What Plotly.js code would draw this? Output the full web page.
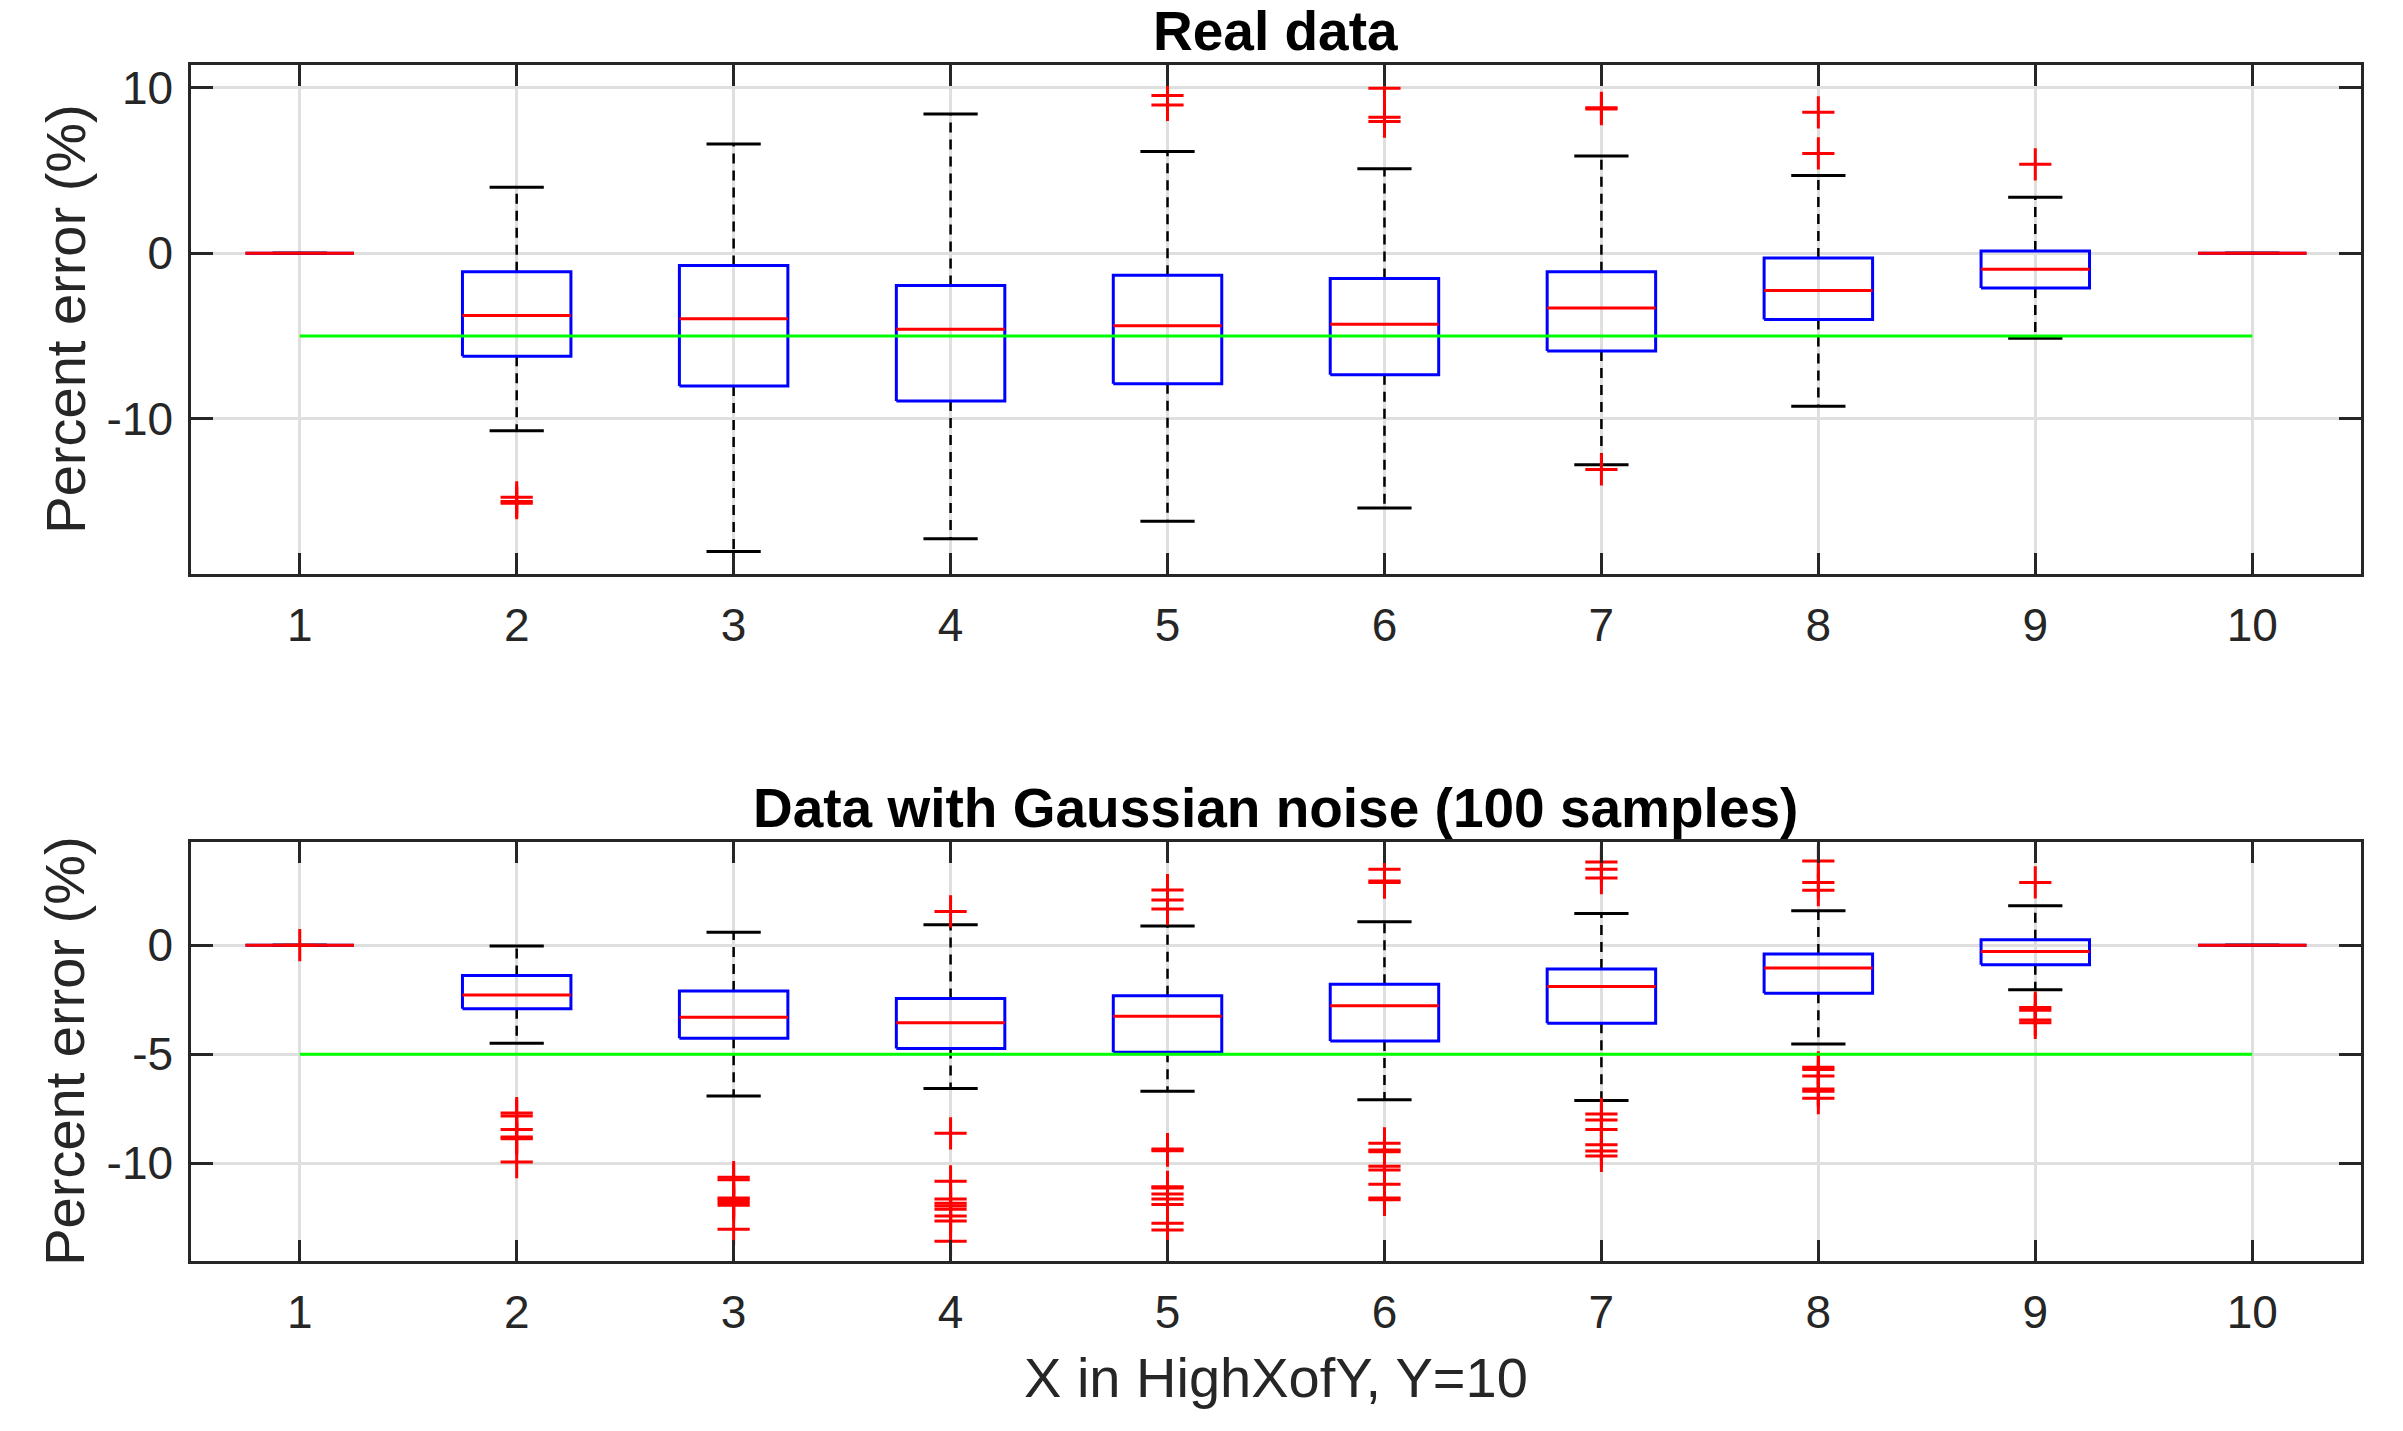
<!DOCTYPE html>
<html>
<head>
<meta charset="utf-8">
<script src="https://cdn.plot.ly/plotly-3.0.1.min.js"></script>
<style>
  html, body { margin: 0; padding: 0; background: #ffffff; }
  #chart { width: 2403px; height: 1431px; }
</style>
</head>
<body>
<div id="chart"></div>
<script>
// Box plots of percent error vs X in HighXofY (Y=10)

const positions = [1, 2, 3, 4, 5, 6, 7, 8, 9, 10];
const xTickText = ['1', '2', '3', '4', '5', '6', '7', '8', '9', '10'];
const targetError = -5;

// Real data
const realMedian = [0, -3.76, -3.96, -4.59, -4.39, -4.29, -3.31, -2.26, -0.98, 0];
const realQ1 = [0, -6.22, -8.02, -8.92, -7.89, -7.34, -5.91, -4.01, -2.11, 0];
const realQ3 = [0, -1.13, -0.75, -1.95, -1.33, -1.53, -1.13, -0.30, 0.13, 0];
const realLower = [0, -10.73, -18.02, -17.24, -16.19, -15.39, -12.78, -9.25, -5.14, 0];
const realUpper = [0, 3.98, 6.59, 8.40, 6.14, 5.09, 5.86, 4.69, 3.38, 0];
const realOutliers = [
    [],
    [-14.74, -15.0, -15.1],
    [],
    [],
    [9.52, 8.95],
    [9.95, 8.20, 7.94],
    [8.77, 8.70, -13.06],
    [8.50, 6.02],
    [5.36],
    []
];
const realYTicks = [-10, 0, 10];
const realYTickText = ['-10', '0', '10'];

// Data with Gaussian noise (100 samples)
const noiseMedian = [0, -2.29, -3.30, -3.56, -3.26, -2.78, -1.90, -1.05, -0.29, 0];
const noiseQ1 = [0, -2.91, -4.27, -4.74, -4.91, -4.40, -3.58, -2.21, -0.90, 0];
const noiseQ3 = [0, -1.39, -2.10, -2.44, -2.32, -1.79, -1.09, -0.40, 0.25, 0];
const noiseLower = [0, -4.50, -6.92, -6.57, -6.70, -7.09, -7.12, -4.53, -2.04, 0];
const noiseUpper = [0, -0.04, 0.59, 0.94, 0.88, 1.08, 1.45, 1.58, 1.81, 0];
const noiseOutliers = [
    [0],
    [-7.70, -7.83, -8.45, -8.80, -8.88, -9.95],
    [-10.64, -10.76, -11.60, -11.68, -11.80, -11.93, -13.03],
    [1.55, -8.63, -10.83, -11.64, -11.84, -11.96, -12.11, -12.42, -12.65, -13.58],
    [2.53, 2.07, 1.66, -9.35, -9.43, -11.08, -11.14, -11.41, -11.64, -11.90, -12.76, -13.06],
    [3.48, 2.95, 2.87, -9.09, -9.40, -9.48, -10.14, -10.31, -10.97, -11.60, -11.68],
    [3.82, 3.48, 3.08, -7.74, -8.02, -8.45, -9.15, -9.44, -9.67],
    [3.86, 2.88, 2.52, -5.60, -5.70, -6.00, -6.60, -6.70, -7.02],
    [2.88, -2.86, -2.99, -3.43, -3.56],
    []
];
const noiseYTicks = [-10, -5, 0];
const noiseYTickText = ['-10', '-5', '0'];

const FONT = 'Liberation Sans, Arial, Helvetica, sans-serif';
const BOX_HALF = 0.25;
const CAP_HALF = 0.125;
const LW = 3;

// Build MATLAB-style boxplot traces from the summary arrays
function boxTraces(med, q1, q3, lo, hi, outliers, xa, ya) {
    const wx = [], wy = [], cx = [], cy = [], bx = [], by = [], mx = [], my = [], ox = [], oy = [];
    positions.forEach((p, i) => {
        wx.push(p, p, null, p, p, null);
        wy.push(q3[i], hi[i], null, q1[i], lo[i], null);
        cx.push(p - CAP_HALF, p + CAP_HALF, null, p - CAP_HALF, p + CAP_HALF, null);
        cy.push(hi[i], hi[i], null, lo[i], lo[i], null);
        bx.push(p - BOX_HALF, p + BOX_HALF, p + BOX_HALF, p - BOX_HALF, p - BOX_HALF, null);
        by.push(q1[i], q1[i], q3[i], q3[i], q1[i], null);
        mx.push(p - BOX_HALF, p + BOX_HALF, null);
        my.push(med[i], med[i], null);
        outliers[i].forEach(v => { ox.push(p); oy.push(v); });
    });
    const base = { type: 'scatter', xaxis: xa, yaxis: ya, showlegend: false, hoverinfo: 'skip' };
    return [
        Object.assign({}, base, { x: wx, y: wy, mode: 'lines', line: { color: '#000000', width: 2.5, dash: '10px,7px' } }),
        Object.assign({}, base, { x: cx, y: cy, mode: 'lines', line: { color: '#000000', width: LW } }),
        Object.assign({}, base, { x: bx, y: by, mode: 'lines', line: { color: '#0000ff', width: LW } }),
        Object.assign({}, base, { x: mx, y: my, mode: 'lines', line: { color: '#ff0000', width: LW } }),
        Object.assign({}, base, {
            x: ox, y: oy, mode: 'markers',
            marker: { symbol: 'cross-thin-open', size: 23, color: '#ff0000', line: { color: '#ff0000', width: LW } }
        }),
        Object.assign({}, base, {
            x: [positions[0], positions[positions.length - 1]], y: [targetError, targetError],
            mode: 'lines', line: { color: '#00ff00', width: LW }
        })
    ];
}

const traces = [].concat(
    boxTraces(realMedian, realQ1, realQ3, realLower, realUpper, realOutliers, 'x', 'y'),
    boxTraces(noiseMedian, noiseQ1, noiseQ3, noiseLower, noiseUpper, noiseOutliers, 'x2', 'y2')
);

const tickFont = { family: FONT, size: 46, color: '#262626' };

function xAxis(anchor) {
    return {
        anchor: anchor,
        domain: [0.0796, 0.9824],
        range: [0.5, 10.5],
        tickmode: 'array',
        tickvals: positions,
        ticktext: xTickText,
        ticks: 'inside',
        ticklen: 21,
        tickwidth: 3,
        tickcolor: '#262626',
        tickfont: tickFont,
        ticklabelstandoff: 9,
        showline: true,
        linecolor: '#262626',
        linewidth: 3,
        mirror: 'ticks',
        showgrid: true,
        gridcolor: '#dfdfdf',
        gridwidth: 3,
        zeroline: false,
        fixedrange: true
    };
}

function yAxis(anchor, domain, range, tickvals, ticktext) {
    return {
        anchor: anchor,
        domain: domain,
        range: range,
        tickmode: 'array',
        tickvals: tickvals,
        ticktext: ticktext,
        ticks: 'inside',
        ticklen: 22,
        tickwidth: 3,
        tickcolor: '#262626',
        tickfont: tickFont,
        ticklabelstandoff: 6,
        showline: true,
        linecolor: '#262626',
        linewidth: 3,
        mirror: 'ticks',
        showgrid: true,
        gridcolor: '#dfdfdf',
        gridwidth: 3,
        zeroline: false,
        fixedrange: true
    };
}

const titleFont = { family: FONT, size: 55, color: '#000000', weight: 'bold' };
const labelFont = { family: FONT, size: 56, color: '#262626' };

const layout = {
    width: 2403,
    height: 1431,
    margin: { l: 0, r: 0, t: 0, b: 0 },
    paper_bgcolor: '#ffffff',
    plot_bgcolor: '#ffffff',
    showlegend: false,
    xaxis: xAxis('y'),
    yaxis: yAxis('x', [0.5989, 0.9546], [-19.37, 11.36], realYTicks, realYTickText),
    xaxis2: xAxis('y2'),
    yaxis2: yAxis('x2', [0.1189, 0.4114], [-14.48, 4.72], noiseYTicks, noiseYTickText),
    annotations: [
        { text: 'Real data', font: titleFont, xref: 'paper', yref: 'paper', x: 0.531, y: 0.9783, xanchor: 'center', yanchor: 'middle', showarrow: false },
        { text: 'Data with Gaussian noise (100 samples)', font: titleFont, xref: 'paper', yref: 'paper', x: 0.531, y: 0.4354, xanchor: 'center', yanchor: 'middle', showarrow: false },
        { text: 'Percent error (%)', font: labelFont, textangle: -90, xref: 'paper', yref: 'paper', x: 0.0271, y: 0.7767, xanchor: 'center', yanchor: 'middle', showarrow: false },
        { text: 'Percent error (%)', font: labelFont, textangle: -90, xref: 'paper', yref: 'paper', x: 0.0271, y: 0.2651, xanchor: 'center', yanchor: 'middle', showarrow: false },
        { text: 'X in HighXofY, Y=10', font: labelFont, xref: 'paper', yref: 'paper', x: 0.531, y: 0.0377, xanchor: 'center', yanchor: 'middle', showarrow: false }
    ]
};

Plotly.newPlot('chart', traces, layout, { staticPlot: true, displayModeBar: false });
</script>
</body>
</html>
